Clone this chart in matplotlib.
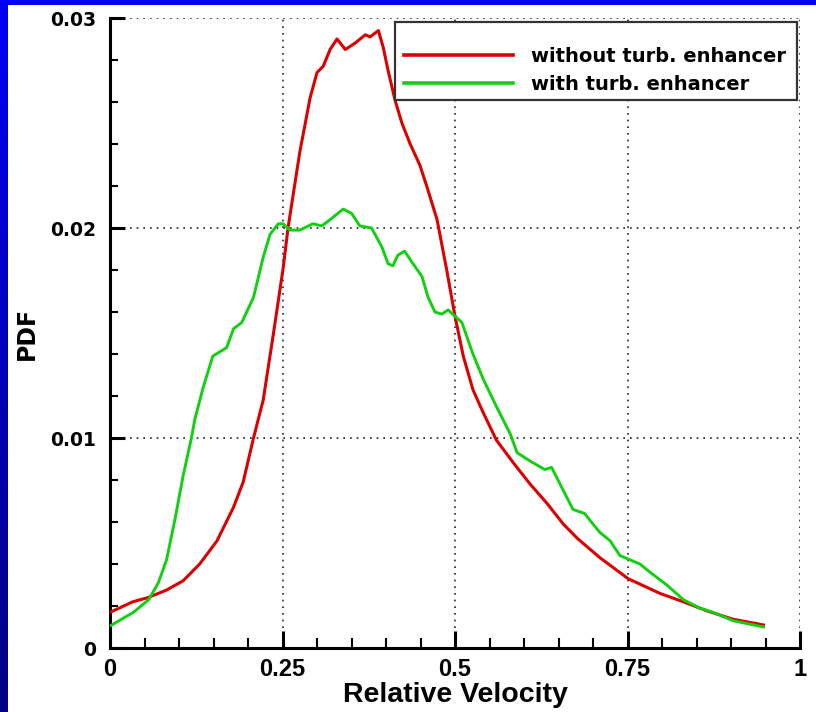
import numpy as np
import matplotlib
matplotlib.use("Agg")
import matplotlib.pyplot as plt
from matplotlib.ticker import MultipleLocator, FixedLocator, FixedFormatter
from matplotlib.patches import Rectangle

# --- data -------------------------------------------------------------
vel_without = [0, 0.033, 0.055, 0.082, 0.106, 0.130, 0.155, 0.179, 0.193, 0.208,
               0.222, 0.237, 0.251, 0.258, 0.275, 0.290, 0.300, 0.309, 0.319, 0.329,
               0.341, 0.355, 0.370, 0.377, 0.389, 0.396, 0.403, 0.413, 0.423, 0.435,
               0.449, 0.459, 0.474, 0.488, 0.500, 0.512, 0.526, 0.541, 0.560, 0.585,
               0.609, 0.633, 0.657, 0.678, 0.710, 0.751, 0.797, 0.831, 0.865, 0.903,
               0.947]
pdf_without = [0.0017, 0.0022, 0.0024, 0.00276, 0.0032, 0.0040, 0.0051, 0.0067, 0.0079, 0.0100,
               0.0118, 0.0150, 0.0181, 0.0200, 0.0236, 0.0262, 0.0274, 0.0277, 0.0285, 0.0290,
               0.0285, 0.0288, 0.0292, 0.0291, 0.0294, 0.0286, 0.0275, 0.0261, 0.0250, 0.0240,
               0.0230, 0.0220, 0.0204, 0.0180, 0.0158, 0.0139, 0.0123, 0.0112, 0.0099, 0.0088,
               0.0078, 0.0069, 0.0059, 0.0052, 0.0043, 0.0033, 0.0026, 0.0022, 0.00177, 0.00137,
               0.0011]

vel_with = [0, 0.010, 0.034, 0.056, 0.070, 0.082, 0.094, 0.106, 0.118, 0.123,
            0.135, 0.149, 0.169, 0.179, 0.191, 0.208, 0.222, 0.232, 0.244, 0.251,
            0.261, 0.275, 0.294, 0.307, 0.319, 0.338, 0.350, 0.362, 0.379, 0.394,
            0.403, 0.410, 0.417, 0.427, 0.437, 0.452, 0.461, 0.471, 0.481, 0.490,
            0.510, 0.526, 0.541, 0.560, 0.580, 0.590, 0.609, 0.630, 0.640, 0.657,
            0.671, 0.688, 0.700, 0.710, 0.725, 0.739, 0.768, 0.783, 0.807, 0.831,
            0.855, 0.874, 0.903, 0.947]
pdf_with = [0.00105, 0.00124, 0.0017, 0.0023, 0.0031, 0.0042, 0.0061, 0.0082, 0.0100, 0.0109,
            0.0124, 0.0139, 0.0143, 0.0152, 0.0155, 0.0167, 0.0186, 0.0197, 0.0202, 0.0202,
            0.0199, 0.0199, 0.0202, 0.0201, 0.0204, 0.0209, 0.0207, 0.0201, 0.0200, 0.0191,
            0.0183, 0.0182, 0.0187, 0.0189, 0.0184, 0.0177, 0.0167, 0.0160, 0.0159, 0.0161,
            0.0155, 0.0140, 0.0128, 0.0115, 0.0102, 0.0093, 0.0089, 0.0085, 0.0086, 0.0075,
            0.0066, 0.0064, 0.0059, 0.0055, 0.0051, 0.0044, 0.0040, 0.0036, 0.0030, 0.0023,
            0.0019, 0.0017, 0.0013, 0.0010]

series_labels = ["without turb. enhancer", "with turb. enhancer"]
x_ticks = [0, 0.25, 0.5, 0.75, 1.0]
x_tick_labels = ["0", "0.25", "0.5", "0.75", "1"]
y_ticks = [0, 0.01, 0.02, 0.03]
y_tick_labels = ["0", "0.01", "0.02", "0.03"]

# --- figure -----------------------------------------------------------
fig = plt.figure(figsize=(8.16, 7.12), dpi=100, facecolor="white")

# blue frame strips (top bar and shaded left bar)
fig.add_artist(Rectangle((0, 1 - 5 / 712), 1, 5 / 712, transform=fig.transFigure,
                         facecolor="#0000f5", edgecolor="none", zorder=0))
bar = fig.add_axes([0, 0, 8 / 816, 1])
grad = np.linspace(0, 1, 256)
cols = np.zeros((256, 1, 3))
cols[:, 0, 2] = 0.96 - 0.45 * grad
bar.imshow(cols, aspect="auto", extent=[0, 1, 0, 1], origin="upper")
bar.set_axis_off()

ax = fig.add_axes([110 / 816, 64 / 712, 690 / 816, 630 / 712])
ax.plot(vel_without, pdf_without, color="#dd0000", lw=2.2, label=series_labels[0],
        zorder=3)
ax.plot(vel_with, pdf_with, color="#11d011", lw=2.1, label=series_labels[1], zorder=3)

ax.set_xlim(0, 1)
ax.set_ylim(0, 0.03)

ax.xaxis.set_major_locator(FixedLocator(x_ticks))
ax.xaxis.set_major_formatter(FixedFormatter(x_tick_labels))
ax.xaxis.set_minor_locator(MultipleLocator(0.05))
ax.yaxis.set_major_locator(FixedLocator(y_ticks))
ax.yaxis.set_major_formatter(FixedFormatter(y_tick_labels))
ax.yaxis.set_minor_locator(MultipleLocator(0.002))

for s in ("top", "right"):
    ax.spines[s].set_visible(False)
for s in ("left", "bottom"):
    ax.spines[s].set_linewidth(2.2)
    ax.spines[s].set_color("black")

ax.tick_params(which="both", direction="in", top=False, right=False, color="black")
ax.tick_params(axis="x", which="major", length=12, width=2.2, pad=7)
ax.tick_params(axis="x", which="minor", length=7, width=1.5)
ax.tick_params(axis="y", which="major", length=11, width=2.2, pad=10)
ax.tick_params(axis="y", which="minor", length=6, width=1.5)

for lab in ax.get_xticklabels():
    lab.set_fontfamily("Liberation Sans")
    lab.set_fontweight("bold")
    lab.set_fontsize(17)
for lab in ax.get_yticklabels():
    lab.set_fontfamily("DejaVu Sans")
    lab.set_fontweight("bold")
    lab.set_fontsize(13.5)

ax.grid(True, which="major", color="#222222", linestyle=(0, (1, 3)), linewidth=1.2)
ax.set_axisbelow(True)

ax.set_xlabel("Relative Velocity", fontfamily="Liberation Sans", fontweight="bold",
              fontsize=20.5, labelpad=1)
ax.set_ylabel("PDF", fontfamily="DejaVu Sans", fontweight="bold", fontsize=17,
              labelpad=8)

# legend frame and entries
ax.add_patch(Rectangle((0.413, 0.8698), 0.5826, 0.1238, transform=ax.transAxes,
                       facecolor="white", edgecolor="#333333", linewidth=1.6,
                       zorder=5, clip_on=False))
leg = ax.legend(loc="upper left", bbox_to_anchor=(0.4260, 0.954),
                prop={"family": "DejaVu Sans", "weight": "bold", "size": 14},
                handlelength=5.6, handletextpad=0.95, labelspacing=0.44,
                borderpad=0, borderaxespad=0, frameon=False)
leg.set_zorder(6)
for h in leg.get_lines():
    h.set_linewidth(2.6)

fig.savefig("out.png", dpi=100, facecolor="white")
